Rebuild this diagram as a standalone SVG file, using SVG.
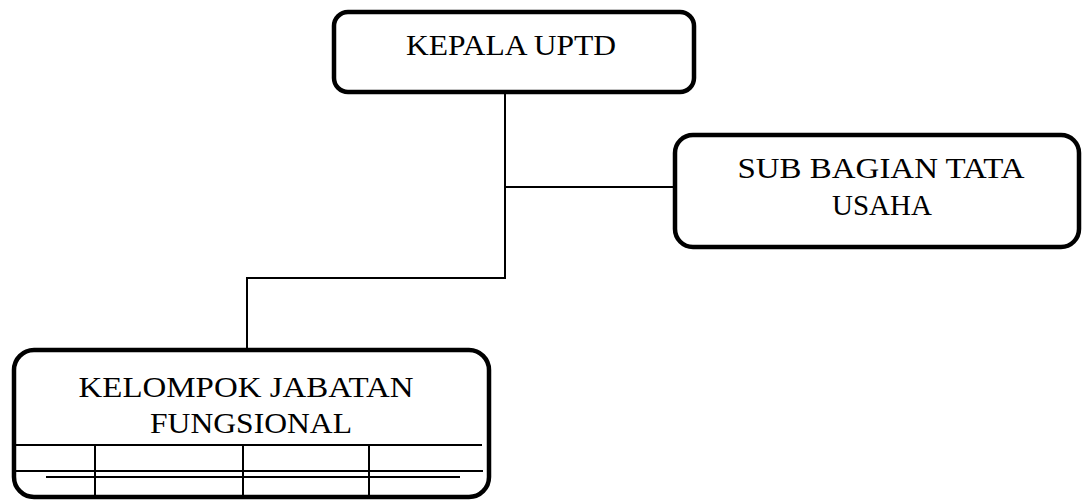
<svg xmlns="http://www.w3.org/2000/svg" width="1082" height="501" viewBox="0 0 1082 501">
<style>
.box{fill:#fff;stroke:#000;stroke-width:4.5}
.ln{fill:none;stroke:#000;stroke-width:2}
.t{font-family:"Liberation Serif","Times New Roman",serif;font-size:29px;fill:#000;text-anchor:middle}
</style>
<rect width="1082" height="501" fill="#fff"/>
<g id="connectors">
<path class="ln" d="M505 92 V278 H247 V350"/>
<path class="ln" d="M505 187 H675"/>
</g>
<g id="kepala">
<rect class="box" x="334" y="12" width="360" height="80" rx="14"/>
<text class="t" x="511" y="55" textLength="210" lengthAdjust="spacingAndGlyphs">KEPALA UPTD</text>
</g>
<g id="subbagian">
<rect class="box" x="675" y="135" width="404" height="112" rx="18"/>
<text class="t" x="881" y="178" textLength="287" lengthAdjust="spacingAndGlyphs">SUB BAGIAN TATA</text>
<text class="t" x="882" y="215">USAHA</text>
</g>
<g id="kelompok">
<rect class="box" x="14" y="350" width="475" height="147" rx="20"/>
<text class="t" x="246" y="397" textLength="335" lengthAdjust="spacingAndGlyphs">KELOMPOK JABATAN</text>
<text class="t" x="251" y="433" textLength="202" lengthAdjust="spacingAndGlyphs">FUNGSIONAL</text>
<path class="ln" d="M16 445 H482 M16 471 H483 M46 477 H460 M95 445 V497 M243 445 V497 M369 445 V497"/>
</g>
</svg>
